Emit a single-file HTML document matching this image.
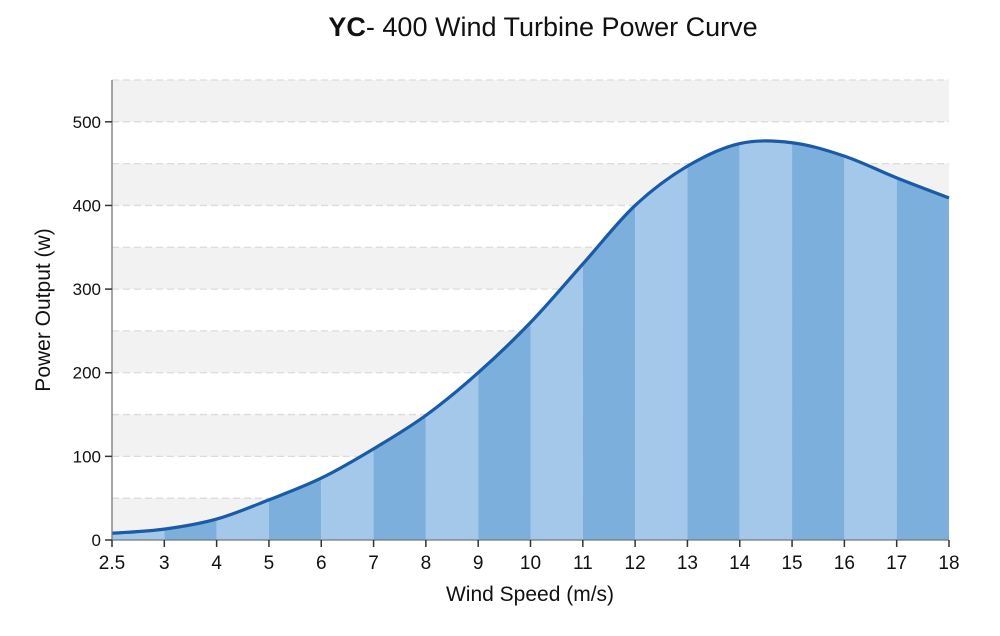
<!DOCTYPE html>
<html><head><meta charset="utf-8"><style>
html,body{margin:0;padding:0;background:#fff;}
svg{display:block;font-family:"Liberation Sans",sans-serif;}
</style></head><body>
<svg id="chart" width="1000" height="636" viewBox="0 0 1000 636">
<text x="543" y="36" text-anchor="middle" font-size="27" fill="#111"><tspan font-weight="bold">YC</tspan>- 400 Wind Turbine Power Curve</text>
<g id="bg"></g><g id="grid"></g><g id="fills"></g><g id="line"></g><g id="axes"></g>
<text x="530" y="601" text-anchor="middle" font-size="21" fill="#111">Wind Speed (m/s)</text>
<text transform="translate(50,310) rotate(-90)" text-anchor="middle" font-size="21" fill="#111">Power Output (w)</text>
</svg>
<script>
const categories=["2.5","3","4","5","6","7","8","9","10","11","12","13","14","15","16","17","18"];
const powerValues=[8,13,25,48,74,109,149,200,260,330,400,447,474,475,459,433,409];
const yTicks=[0,100,200,300,400,500];
const NS="http://www.w3.org/2000/svg";
const X0=112,X1=949,Y0=540,YMAX=550,YTOP=80;
const xs=i=>X0+i*(X1-X0)/(categories.length-1);
const ys=v=>Y0-v*(Y0-YTOP)/YMAX;
function mk(p,t,a){const e=document.createElementNS(NS,t);for(const k in a)e.setAttribute(k,a[k]);document.getElementById(p).appendChild(e);return e;}
for(let v=0;v<YMAX;v+=100){const r=mk('bg','rect',{x:X0,y:ys(v+50),width:X1-X0,height:ys(v)-ys(v+50),fill:'#f2f2f2'});

}
for(let v=50;v<=YMAX;v+=50){const l=mk('grid','line',{x1:X0,x2:X1,y1:ys(v),y2:ys(v),stroke:'#dcdcdc','stroke-width':1.3,'stroke-dasharray':'7 4'});

}
const pts=powerValues.map((v,i)=>[xs(i),ys(v)]);
let d=`M${pts[0][0]},${pts[0][1]}`;
for(let i=0;i<pts.length-1;i++){const p0=pts[Math.max(0,i-1)],p1=pts[i],p2=pts[i+1],p3=pts[Math.min(pts.length-1,i+2)];
d+=` C${p1[0]+(p2[0]-p0[0])/6},${p1[1]+(p2[1]-p0[1])/6} ${p2[0]-(p3[0]-p1[0])/6},${p2[1]-(p3[1]-p1[1])/6} ${p2[0]},${p2[1]}`;}
const defs=mk('fills','defs',{});
const cp=document.createElementNS(NS,'clipPath');cp.setAttribute('id','area');defs.appendChild(cp);
const ap=document.createElementNS(NS,'path');ap.setAttribute('d',d+` L${X1},${Y0} L${X0},${Y0} Z`);cp.appendChild(ap);
const g=mk('fills','g',{'clip-path':'url(#area)'});
for(let i=0;i<categories.length-1;i++){const r=document.createElementNS(NS,'rect');
r.setAttribute('x',xs(i));r.setAttribute('y',YTOP);r.setAttribute('width',xs(i+1)-xs(i));r.setAttribute('height',Y0-YTOP);
r.setAttribute('fill',i%2?'#7dafdc':'#a3c8ea');


g.appendChild(r);}
const ln=mk('line','path',{d:d,fill:'none',stroke:'#1a5aa6','stroke-width':3.2});


mk('axes','line',{x1:X0,x2:X0,y1:YTOP,y2:Y0,stroke:'#777','stroke-width':1.3});
mk('axes','line',{x1:X0,x2:X1,y1:Y0,y2:Y0,stroke:'#777','stroke-width':1.3});
yTicks.forEach(v=>{mk('axes','line',{x1:X0-7,x2:X0,y1:ys(v),y2:ys(v),stroke:'#333','stroke-width':1.5});
const t=mk('axes','text',{x:X0-11,y:ys(v)+6,'text-anchor':'end','font-size':17,fill:'#111'});t.textContent=v;

});
categories.forEach((c,i)=>{mk('axes','line',{x1:xs(i),x2:xs(i),y1:Y0,y2:Y0+7,stroke:'#333','stroke-width':1.5});
const t=mk('axes','text',{x:xs(i),y:Y0+29,'text-anchor':'middle','font-size':19,fill:'#111'});t.textContent=c;

});
</script>
</body></html>
